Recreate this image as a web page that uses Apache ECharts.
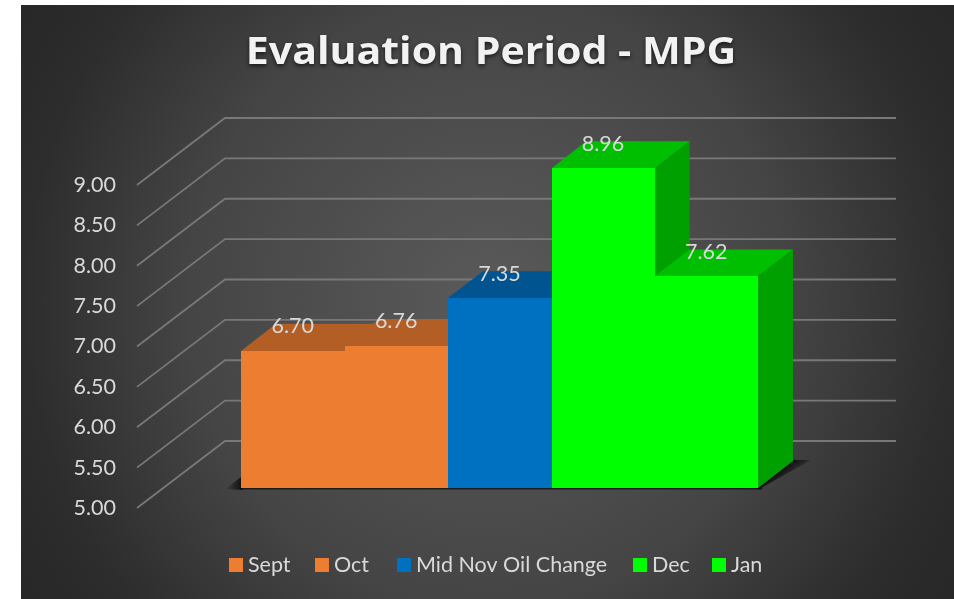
<!DOCTYPE html>
<html>
<head>
<meta charset="utf-8">
<title>Evaluation Period - MPG</title>
<script src="https://cdn.jsdelivr.net/npm/echarts@6/dist/echarts.min.js"></script>
<style>
  html, body { margin: 0; padding: 0; background: #fff; }
  #chart { width: 954px; height: 599px; }
</style>
</head>
<body>
<div id="chart"></div>
<script>
// chart values
var categories = ["Sept", "Oct", "Mid Nov Oil Change", "Dec", "Jan"];
var mpgValues = [6.70, 6.76, 7.35, 8.96, 7.62];
var tickValues = [5, 5.5, 6, 6.5, 7, 7.5, 8, 8.5, 9];
var titleText = "Evaluation Period - MPG";

// front, top and side colour of each bar
var frontColors = ["#ed7d31", "#ed7d31", "#0070c0", "#00ff00", "#00ff00"];
var topColors = ["#b25e25", "#b25e25", "#005490", "#00bf00", "#00bf00"];
var sideColors = ["#9e5321", "#9e5321", "#004b80", "#00a000", "#00a000"];

// left edge of each legend entry; the original spacing is not even
var legendLefts = [224, 310, 392, 628, 707];

// fake 3D: how far the floor runs back, and where the bars sit in that depth
var wallDepth = [88, -67];
var barNear = [26.3, -20];
var barFar = [61, -47];

var xMin = -0.755, xMax = 5.735;
var textColor = "#d9d9d9";
var fontName = "Lato";

function shift(p, d) {
    return [p[0] + d[0], p[1] + d[1]];
}

// whole pixels, so two touching bars of one colour show no seam
function snap(p) {
    return [Math.round(p[0]), Math.round(p[1])];
}

function renderGridLine(params, api) {
    var tick = api.value(0);
    var front = api.coord([xMin, tick]);
    var backLeft = shift(front, wallDepth);
    var backRight = shift(api.coord([xMax, tick]), wallDepth);
    return {
        type: "polyline",
        shape: { points: [front, backLeft, backRight] },
        style: { fill: "none", stroke: "#787878", lineWidth: 1.8 }
    };
}

function renderFloorShadow(params, api) {
    var left = api.coord([0, tickValues[0]]);
    var right = api.coord([categories.length, tickValues[0]]);
    var a = shift(left, barNear);
    var b = shift(right, barNear);
    var c = shift(right, barFar);
    var fadeLeft = new echarts.graphic.LinearGradient(0, 0, 1, 0, [
        { offset: 0, color: "rgba(0,0,0,0)" },
        { offset: 1, color: "rgba(0,0,0,0.8)" }
    ]);
    // fades out at right angles to the slanted floor edge
    var mid = [(b[0] + c[0]) / 2, (b[1] + c[1]) / 2];
    var fadeRight = new echarts.graphic.LinearGradient(
        mid[0], mid[1], mid[0] + 9, mid[1] + 11.5,
        [
            { offset: 0, color: "rgba(0,0,0,0.75)" },
            { offset: 1, color: "rgba(0,0,0,0)" }
        ],
        true
    );
    return {
        type: "group",
        children: [
            {
                type: "polygon",
                shape: { points: [[a[0] - 16, a[1] + 1], [a[0] + 1, a[1] - 12], [a[0] + 1, a[1] + 2]] },
                style: { fill: fadeLeft }
            },
            {
                type: "polygon",
                shape: { points: [[a[0], a[1] + 1.5], [b[0] + 4, b[1] + 1.5], [b[0] + 4, b[1] - 1], [a[0], a[1] - 1]] },
                style: { fill: "rgba(0,0,0,0.6)" }
            },
            {
                type: "polygon",
                shape: { points: [[b[0], b[1] + 1.5], [c[0] + 18, c[1] - 1], [c[0], c[1] - 1], [b[0], b[1]]] },
                style: { fill: fadeRight }
            }
        ]
    };
}

function renderBar(params, api) {
    var i = api.value(0);
    var value = api.value(1);
    var base = tickValues[0];
    var bl = api.coord([i, base]);
    var br = api.coord([i + 1, base]);
    var tl = api.coord([i, value]);
    var tr = api.coord([i + 1, value]);

    var frontBL = snap(shift(bl, barNear)), frontBR = snap(shift(br, barNear));
    var frontTL = snap(shift(tl, barNear)), frontTR = snap(shift(tr, barNear));
    var backBR = shift(br, barFar);
    var backTL = shift(tl, barFar), backTR = shift(tr, barFar);

    return {
        type: "group",
        children: [
            {
                type: "polygon",
                shape: { points: [frontTR, backTR, backBR, frontBR] },
                style: { fill: sideColors[i] }
            },
            {
                type: "polygon",
                shape: { points: [frontTL, backTL, backTR, frontTR] },
                style: { fill: topColors[i] }
            },
            {
                type: "polygon",
                shape: { points: [frontBL, frontTL, frontTR, frontBR] },
                style: { fill: frontColors[i] }
            },
            {
                type: "text",
                style: {
                    text: mpgValues[i].toFixed(2),
                    x: (backTL[0] + backTR[0]) / 2 - 35,
                    y: backTL[1] + 2.5,
                    align: "center",
                    verticalAlign: "middle",
                    fill: textColor,
                    font: "21.5px " + fontName
                }
            }
        ]
    };
}

var series = [
    {
        type: "custom",
        z: 1,
        silent: true,
        renderItem: renderGridLine,
        data: tickValues.map(function (t) { return [t]; })
    },
    {
        type: "custom",
        z: 2,
        silent: true,
        renderItem: renderFloorShadow,
        data: [[0]]
    }
];

categories.forEach(function (name, i) {
    series.push({
        type: "custom",
        name: name,
        z: 3 + i,
        silent: true,
        itemStyle: { color: frontColors[i] },
        renderItem: renderBar,
        data: [[i, mpgValues[i]]]
    });
});

var chart = echarts.init(document.getElementById("chart"));
chart.setOption({
    animation: false,
    backgroundColor: "#ffffff",
    graphic: [
        {
            type: "rect",
            z: -1,
            silent: true,
            shape: { x: 21, y: 5, width: 933, height: 594 },
            style: {
                fill: new echarts.graphic.RadialGradient(0.5, 0.5, 0.93, [
                    { offset: 0, color: "#5a5a5a" },
                    { offset: 0.54, color: "#454545" },
                    { offset: 0.84, color: "#2d2d2d" },
                    { offset: 1, color: "#272727" }
                ])
            }
        },
        {
            // the original title is letter spaced, a stretch gets the same width
            type: "text",
            z: 10,
            silent: true,
            x: 491,
            y: 53,
            scaleX: 1.11,
            style: {
                text: titleText,
                align: "center",
                verticalAlign: "middle",
                fill: "#f2f2f2",
                font: "bold 37px 'Open Sans'",
                textShadowColor: "rgba(0,0,0,0.65)",
                textShadowBlur: 4,
                textShadowOffsetY: 2
            }
        }
    ],
    legend: categories.map(function (name, i) {
        return {
            left: legendLefts[i],
            top: 549,
            itemWidth: 14,
            itemHeight: 14,
            icon: "rect",
            selectedMode: false,
            data: [name],
            textStyle: { color: textColor, fontFamily: fontName, fontSize: 21.5 }
        };
    }),
    grid: { left: 137, top: 185, width: 671, height: 323 },
    xAxis: { type: "value", min: xMin, max: xMax, show: false },
    yAxis: {
        type: "value",
        min: tickValues[0],
        max: tickValues[tickValues.length - 1],
        interval: 0.5,
        axisLine: { show: false },
        axisTick: { show: false },
        splitLine: { show: false },
        axisLabel: {
            margin: 21,
            color: textColor,
            fontFamily: fontName,
            fontSize: 21.5,
            padding: [2, 0, 0, 0],
            formatter: function (v) { return v.toFixed(2); }
        }
    },
    series: series
});
</script>
</body>
</html>
